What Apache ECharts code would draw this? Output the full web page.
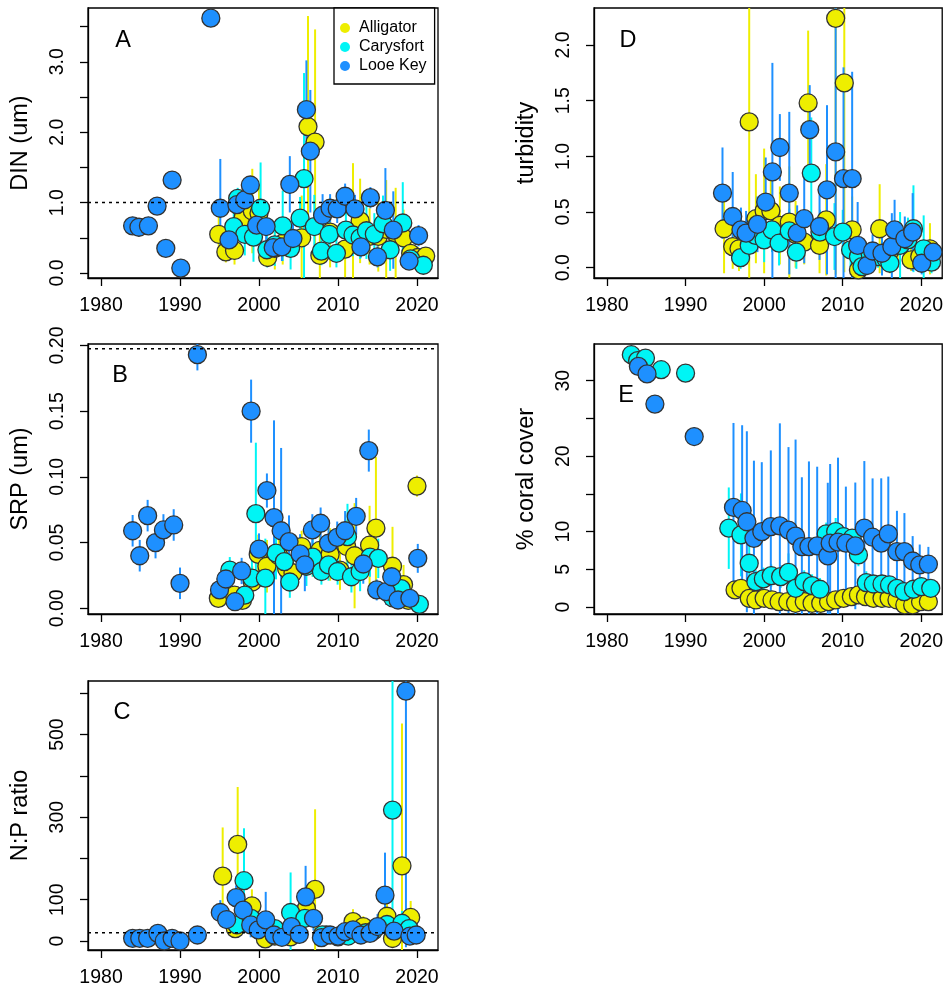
<!DOCTYPE html>
<html>
<head>
<meta charset="utf-8">
<script src="https://cdn.jsdelivr.net/npm/echarts@6/dist/echarts.min.js"></script>
<style>
html,body{margin:0;padding:0;background:#fff;}
#chart{width:946px;height:992px;}
</style>
</head>
<body>
<div id="chart"></div>
<script>
// ---------- sites ----------
const sites = ['Alligator', 'Carysfort', 'Looe Key'];
const siteColors = ['#EEEE00', '#00F5F5', '#1E90FF'];
const yearTicks = [1980, 1990, 2000, 2010, 2020];

// ---------- Panel A: DIN (um) ----------
const dinAlligatorYear = [1994.9, 1995.8, 1996.9, 1998.0, 1999.15, 2000.0, 2001.1, 2002.0, 2003.0, 2003.9, 2005.4, 2006.2, 2007.1, 2007.7, 2009.0, 2010.9, 2011.9, 2012.8, 2014.0, 2015.1, 2016.1, 2017.3, 2018.3, 2019.2, 2020.1, 2021.1];
const dinAlligatorVal = [0.55, 0.30, 0.32, 0.79, 0.88, 0.85, 0.22, 0.35, 0.42, 0.37, 0.50, 2.08, 1.86, 0.25, 0.58, 0.34, 0.56, 0.74, 0.52, 0.52, 0.62, 0.56, 0.50, 0.28, 0.22, 0.24];
const dinAlligatorSd = [0.25, 0.15, 0.2, 0.3, 0.6, 0.4, 0.1, 0.3, 0.3, 0.15, 0.6, 1.57, 1.6, 0.4, 0.5, 0.4, 1.0, 0.6, 0.4, 0.5, 0.7, 0.65, 0.4, 0.2, 0.15, 0.12];
const dinCarysfortYear = [1996.8, 1997.3, 1998.2, 1999.3, 2000.2, 2001.0, 2002.0, 2003.0, 2004.0, 2005.2, 2005.7, 2007.0, 2007.9, 2008.9, 2009.8, 2011.0, 2011.9, 2012.8, 2013.6, 2014.6, 2015.7, 2016.6, 2018.2, 2019.2, 2020.8];
const dinCarysfortVal = [0.66, 1.06, 0.55, 0.51, 0.92, 0.33, 0.40, 0.67, 0.35, 0.78, 1.34, 0.66, 0.31, 0.55, 0.28, 0.61, 0.54, 0.50, 0.60, 0.55, 0.70, 0.33, 0.71, 0.20, 0.11];
const dinCarysfortSd = [0.3, 0.15, 0.3, 0.35, 0.65, 0.25, 0.3, 0.5, 0.3, 0.3, 1.5, 0.45, 0.2, 0.35, 0.2, 0.4, 0.3, 0.3, 0.4, 0.3, 0.4, 0.3, 0.58, 0.15, 0.1];
const dinLooeYear = [1984.0, 1984.8, 1986.0, 1987.1, 1988.2, 1989.0, 1990.1, 1993.9, 1995.1, 1996.2, 1997.2, 1998.2, 1998.9, 1999.7, 2000.9, 2001.8, 2002.9, 2003.9, 2004.3, 2006.0, 2006.5, 2008.05, 2009.0, 2009.9, 2010.9, 2012.15, 2012.9, 2014.1, 2015.0, 2016.0, 2017.0, 2019.0, 2020.2];
const dinLooeVal = [0.67, 0.65, 0.67, 0.95, 0.35, 1.32, 0.07, 3.62, 0.92, 0.47, 0.97, 1.04, 1.25, 0.68, 0.66, 0.36, 0.37, 1.26, 0.49, 2.32, 1.73, 0.82, 0.92, 0.91, 1.09, 0.91, 0.37, 1.07, 0.23, 0.89, 0.61, 0.17, 0.53];
const dinLooeSd = [0.05, 0.05, 0.05, 0.1, 0.1, 0.12, 0.1, 0.05, 0.7, 0.25, 0.2, 0.2, 0.12, 0.3, 0.3, 0.1, 0.2, 0.4, 0.25, 0.7, 0.87, 0.3, 0.2, 0.2, 0.18, 0.2, 0.15, 0.15, 0.15, 0.6, 0.55, 0.1, 0.15];
const dinRef = 1.0;

// ---------- Panel D: turbidity ----------
const turbAlligatorYear = [1994.9, 1996.0, 1996.8, 1998.1, 1998.95, 2000.0, 2000.85, 2002.0, 2003.2, 2004.0, 2005.1, 2005.6, 2007.05, 2007.9, 2009.1, 2010.2, 2011.2, 2012.0, 2013.0, 2014.7, 2016.0, 2017.0, 2018.7, 2019.8, 2021.1];
const turbAlligatorVal = [0.35, 0.19, 0.17, 1.31, 0.44, 0.51, 0.51, 0.38, 0.41, 0.30, 0.23, 1.48, 0.20, 0.43, 2.24, 1.66, 0.34, -0.02, 0.10, 0.35, 0.15, 0.20, 0.07, 0.10, 0.17];
const turbAlligatorSd = [0.4, 0.2, 0.2, 1.4, 0.4, 0.56, 0.3, 0.35, 0.5, 0.3, 0.2, 0.65, 0.25, 0.5, 2.3, 1.7, 0.3, 0.05, 0.1, 0.4, 0.2, 0.15, 0.1, 0.1, 0.23];
const turbCarysfortYear = [1997.0, 1998.1, 1998.9, 2000.0, 2001.0, 2001.9, 2003.2, 2004.1, 2006.0, 2007.1, 2008.95, 2010.0, 2011.0, 2012.0, 2012.45, 2013.5, 2014.5, 2015.5, 2016.0, 2017.3, 2018.3, 2019.0, 2020.3, 2021.3];
const turbCarysfortVal = [0.09, 0.20, 0.29, 0.25, 0.34, 0.22, 0.33, 0.14, 0.85, 0.32, 0.28, 0.32, 0.16, 0.10, 0.01, 0.12, 0.10, 0.08, 0.04, 0.20, 0.25, 0.35, 0.17, 0.05];
const turbCarysfortSd = [0.1, 0.1, 0.15, 0.2, 0.2, 0.2, 0.2, 0.15, 0.5, 0.2, 0.3, 0.2, 0.15, 0.1, 0.05, 0.1, 0.1, 0.1, 0.08, 0.3, 0.2, 0.39, 0.3, 0.1];
const turbLooeYear = [1994.7, 1996.0, 1997.05, 1997.7, 1999.15, 2000.2, 2001.05, 2002.0, 2003.2, 2004.2, 2005.1, 2005.8, 2007.05, 2008.0, 2009.1, 2010.1, 2011.2, 2011.9, 2013.1, 2013.8, 2015.0, 2016.25, 2016.6, 2017.9, 2018.9, 2020.05, 2021.5];
const turbLooeVal = [0.67, 0.46, 0.34, 0.31, 0.39, 0.59, 0.86, 1.08, 0.67, 0.31, 0.44, 1.24, 0.37, 0.70, 1.04, 0.80, 0.80, 0.20, 0.02, 0.15, 0.13, 0.19, 0.34, 0.26, 0.32, 0.04, 0.14];
const turbLooeSd = [0.41, 0.4, 0.2, 0.2, 0.25, 0.4, 0.98, 0.3, 0.73, 0.25, 0.4, 0.4, 0.3, 0.76, 1.3, 1.0, 0.96, 0.39, 0.05, 0.15, 0.2, 0.3, 0.27, 0.2, 0.35, 0.1, 0.1];

// ---------- Panel B: SRP (um) ----------
const srpAlligatorYear = [1994.85, 1996.9, 1997.9, 1999.15, 1999.9, 2001.0, 2002.5, 2003.5, 2004.3, 2005.4, 2006.8, 2007.7, 2009.0, 2010.25, 2011.1, 2012.1, 2014.0, 2014.8, 2016.9, 2018.3, 2018.9, 2020.0];
const srpAlligatorVal = [0.0076, 0.010, 0.006, 0.020, 0.041, 0.032, 0.040, 0.030, 0.027, 0.047, 0.036, 0.044, 0.041, 0.029, 0.047, 0.040, 0.048, 0.061, 0.032, 0.018, 0.006, 0.093];
const srpAlligatorSd = [0.006, 0.006, 0.006, 0.012, 0.015, 0.02, 0.012, 0.015, 0.01, 0.012, 0.012, 0.015, 0.02, 0.015, 0.02, 0.04, 0.03, 0.054, 0.03, 0.015, 0.005, 0.008];
const srpCarysfortYear = [1996.3, 1998.2, 1999.1, 1999.6, 2000.8, 2002.15, 2003.2, 2003.9, 2006.0, 2006.8, 2007.9, 2008.8, 2009.95, 2011.2, 2011.7, 2012.8, 2014.05, 2015.1, 2016.9, 2018.0, 2020.3];
const srpCarysfortVal = [0.029, 0.010, 0.023, 0.072, 0.023, 0.042, 0.0355, 0.020, 0.032, 0.039, 0.028, 0.033, 0.028, 0.0545, 0.024, 0.028, 0.039, 0.038, 0.008, 0.015, 0.003];
const srpCarysfortSd = [0.01, 0.008, 0.015, 0.054, 0.03, 0.02, 0.015, 0.012, 0.015, 0.015, 0.01, 0.012, 0.01, 0.025, 0.012, 0.015, 0.015, 0.015, 0.006, 0.01, 0.003];
const srpLooeYear = [1984.0, 1984.9, 1985.9, 1986.9, 1987.9, 1989.2, 1990.0, 1992.2, 1995.0, 1995.8, 1996.96, 1997.8, 1999.0, 2000.0, 2001.0, 2001.9, 2002.8, 2003.8, 2005.2, 2005.8, 2006.75, 2007.8, 2008.8, 2009.9, 2010.9, 2012.3, 2013.2, 2013.9, 2014.9, 2016.1, 2016.8, 2017.6, 2019.1, 2020.1];
const srpLooeVal = [0.059, 0.040, 0.0705, 0.050, 0.0596, 0.0634, 0.019, 0.193, 0.014, 0.0223, 0.005, 0.0284, 0.150, 0.045, 0.0896, 0.069, 0.059, 0.0507, 0.0414, 0.033, 0.0596, 0.0647, 0.0495, 0.054, 0.059, 0.070, 0.0337, 0.120, 0.014, 0.0127, 0.024, 0.0063, 0.0076, 0.038];
const srpLooeSd = [0.012, 0.012, 0.012, 0.012, 0.012, 0.012, 0.012, 0.012, 0.008, 0.01, 0.005, 0.01, 0.024, 0.012, 0.013, 0.074, 0.063, 0.02, 0.015, 0.02, 0.012, 0.012, 0.015, 0.012, 0.015, 0.014, 0.015, 0.016, 0.008, 0.01, 0.015, 0.006, 0.006, 0.011];
const srpRef = 0.1975;

// ---------- Panel E: % coral cover ----------
const coralAlligatorYear = [1996.3, 1997.05, 1998.1, 1998.95, 2000.0, 2001.0, 2001.9, 2003.0, 2004.0, 2005.1, 2006.1, 2007.2, 2008.2, 2009.1, 2010.1, 2011.1, 2012.0, 2012.9, 2013.9, 2015.0, 2015.9, 2016.9, 2017.9, 2018.9, 2019.9, 2020.9];
const coralAlligatorVal = [2.26, 2.48, 1.15, 0.93, 1.15, 0.93, 0.70, 0.70, 0.49, 0.70, 0.49, 0.49, 0.70, 0.93, 1.15, 1.37, 1.60, 1.37, 1.15, 1.15, 1.15, 0.93, 0.27, 0.27, 0.70, 0.70];
const coralAlligatorSd = [0.8, 0.8, 0.6, 0.6, 0.6, 0.6, 0.5, 0.5, 0.5, 0.5, 0.5, 0.5, 0.5, 0.6, 0.6, 0.7, 0.7, 0.7, 0.6, 0.6, 0.6, 0.5, 0.4, 0.4, 0.5, 0.5];
const coralCarysfortYear = [1983.1, 1983.9, 1984.9, 1986.9, 1990.0, 1995.5, 1997.05, 1998.1, 1998.95, 1999.9, 2000.9, 2002.1, 2003.1, 2004.0, 2005.1, 2006.1, 2007.1, 2007.9, 2009.1, 2010.1, 2011.2, 2012.0, 2013.0, 2013.9, 2015.0, 2015.95, 2016.9, 2017.8, 2019.0, 2020.0, 2021.2];
const coralCarysfortVal = [33.45, 32.66, 33.0, 31.46, 31.0, 10.45, 9.56, 5.8, 3.36, 3.72, 4.16, 4.02, 4.6, 2.48, 3.36, 2.83, 2.35, 9.69, 10.0, 9.33, 9.12, 6.9, 3.23, 3.05, 3.05, 2.92, 2.48, 2.03, 2.35, 2.7, 2.48];
const coralCarysfortSd = [0, 0, 0, 0, 0, 5.4, 5.5, 3.0, 1.5, 1.5, 1.5, 1.5, 2.5, 1.5, 1.5, 1.5, 1.5, 1.5, 1.8, 1.2, 1.2, 1.5, 1.5, 1.2, 1.2, 1.2, 1.2, 1.2, 1.2, 1.2, 1.2];
const coralLooeYear = [1984.0, 1985.1, 1986.1, 1991.1, 1996.1, 1997.2, 1997.8, 1998.7, 1999.7, 2000.85, 2002.0, 2003.1, 2004.0, 2004.8, 2005.7, 2006.75, 2008.1, 2008.4, 2009.4, 2010.4, 2011.6, 2012.75, 2013.8, 2014.9, 2015.8, 2016.9, 2017.85, 2018.9, 2019.8, 2020.9];
const coralLooeVal = [31.9, 30.9, 26.9, 22.6, 13.2, 12.8, 11.3, 9.1, 10.0, 10.66, 10.75, 10.2, 9.4, 8.0, 8.0, 8.1, 6.77, 8.46, 8.6, 8.46, 8.1, 10.45, 9.25, 8.46, 9.69, 7.35, 7.35, 6.1, 5.58, 5.67];
const coralLooeSd = [0, 0, 0, 0, 11.2, 11.3, 12.0, 10.3, 9.2, 10.1, 13.6, 11.0, 12.8, 9.2, 11.3, 10.5, 9.7, 10.5, 11.2, 7.5, 8.4, 8.9, 7.8, 8.6, 7.6, 5.4, 5.1, 3.3, 2.7, 2.3];

// ---------- Panel C: N:P ratio ----------
const npAlligatorYear = [1995.4, 1997.0, 1997.3, 1999.1, 2000.8, 2002.0, 2004.0, 2006.0, 2007.1, 2008.5, 2010.0, 2011.9, 2013.2, 2016.2, 2016.9, 2018.1, 2019.2];
const npAlligatorVal = [157, 30, 234, 85, 5, 12, 10, 79, 125, 15, 12, 47, 35, 60, 6, 182, 57];
const npAlligatorSd = [118, 20, 139, 40, 10, 10, 10, 40, 194, 10, 10, 30, 25, 40, 10, 345, 40];
const npCarysfortYear = [1997.2, 1998.1, 1999.0, 2002.0, 2004.0, 2005.8, 2008.0, 2010.0, 2011.3, 2013.5, 2014.5, 2016.2, 2016.9, 2018.1, 2019.0];
const npCarysfortVal = [39, 146, 55, 30, 69, 55, 15, 10, 12, 20, 25, 40, 317, 43, 30];
const npCarysfortSd = [20, 127, 30, 20, 97, 40, 10, 10, 10, 15, 15, 30, 330, 30, 20];
const npLooeYear = [1984.0, 1984.9, 1985.9, 1987.2, 1988.0, 1989.0, 1990.0, 1992.2, 1995.1, 1995.9, 1997.1, 1998.0, 1998.95, 1999.9, 2000.85, 2001.9, 2002.9, 2004.1, 2005.1, 2005.9, 2006.9, 2007.9, 2009.0, 2010.0, 2010.9, 2011.9, 2012.9, 2014.05, 2015.0, 2015.95, 2017.1, 2018.6, 2019.1, 2019.9];
const npLooeVal = [6.5, 6.5, 6.5, 18.6, 0, 6.5, 0, 14.5, 69, 52, 105, 75, 39, 27, 51, 14.5, 9, 35, 16, 107, 55, 8, 14.5, 12, 22.5, 27, 14.5, 18.6, 35, 111, 24, 605, 12, 14.5];
const npLooeSd = [10, 10, 10, 10, 8, 8, 8, 15, 30, 20, 30, 30, 30, 20, 68, 10, 10, 20, 10, 75, 30, 10, 10, 10, 10, 10, 10, 10, 30, 103, 15, 620, 10, 10];
const npRef = 20;

// ---------- axis tick sets ----------
const dinTicks = [0, 0.5, 1, 1.5, 2, 2.5, 3, 3.5];
const dinLabels = [0, 1, 2, 3];
const turbTicks = [0, 0.5, 1, 1.5, 2];
const srpTicks = [0, 0.05, 0.1, 0.15, 0.2];
const coralTicks = [0, 5, 10, 15, 20, 25, 30];
const coralLabels = [0, 5, 10, 20, 30];
const npTicks = [0, 100, 200, 300, 400, 500, 600];
const npLabels = [0, 100, 300, 500];

// ---------- layout ----------
const FONT = '"Liberation Sans", Arial, Helvetica, sans-serif';
const XMIN = 1978.35, XMAX = 2022.66;
const panels = [
  { letter: 'A', lx: 123, ly: 41, grid: { left: 88, top: 8, width: 350, height: 270 }, ymin: -0.071, ymax: 3.764,
    ticks: dinTicks, labels: dinLabels, dec: 1, title: 'DIN (um)', ref: dinRef,
    d: [[dinAlligatorYear, dinAlligatorVal, dinAlligatorSd], [dinCarysfortYear, dinCarysfortVal, dinCarysfortSd], [dinLooeYear, dinLooeVal, dinLooeSd]] },
  { letter: 'D', lx: 628, ly: 41, grid: { left: 594, top: 8, width: 350, height: 270 }, ymin: -0.0925, ymax: 2.333,
    ticks: turbTicks, labels: turbTicks, dec: 1, title: 'turbidity', ref: null,
    d: [[turbAlligatorYear, turbAlligatorVal, turbAlligatorSd], [turbCarysfortYear, turbCarysfortVal, turbCarysfortSd], [turbLooeYear, turbLooeVal, turbLooeSd]] },
  { letter: 'B', lx: 120, ly: 376, grid: { left: 88, top: 344, width: 350, height: 270 }, ymin: -0.00434, ymax: 0.2011,
    ticks: srpTicks, labels: srpTicks, dec: 2, title: 'SRP (um)', ref: srpRef,
    d: [[srpAlligatorYear, srpAlligatorVal, srpAlligatorSd], [srpCarysfortYear, srpCarysfortVal, srpCarysfortSd], [srpLooeYear, srpLooeVal, srpLooeSd]] },
  { letter: 'E', lx: 626, ly: 396, grid: { left: 594, top: 344, width: 350, height: 270 }, ymin: -0.93, ymax: 34.87,
    ticks: coralTicks, labels: coralLabels, dec: 0, title: '% coral cover', ref: null,
    d: [[coralAlligatorYear, coralAlligatorVal, coralAlligatorSd], [coralCarysfortYear, coralCarysfortVal, coralCarysfortSd], [coralLooeYear, coralLooeVal, coralLooeSd]] },
  { letter: 'C', lx: 122, ly: 713, grid: { left: 88, top: 681, width: 350, height: 269 }, ymin: -21.8, ymax: 629.7,
    ticks: npTicks, labels: npLabels, dec: 0, title: 'N:P ratio', ref: npRef,
    d: [[npAlligatorYear, npAlligatorVal, npAlligatorSd], [npCarysfortYear, npCarysfortVal, npCarysfortSd], [npLooeYear, npLooeVal, npLooeSd]] }
];

const grids = [], xAxes = [], yAxes = [], series = [], graphics = [];
const axisCol = '#000';
panels.forEach((p, i) => {
  grids.push(Object.assign({ show: true, borderColor: '#000', borderWidth: 1.3, backgroundColor: 'transparent', containLabel: false }, p.grid));
  xAxes.push({
    type: 'value', gridIndex: i, min: XMIN, max: XMAX,
    axisLine: { show: true, onZero: false, lineStyle: { color: axisCol, width: 1.3 } },
    axisTick: { show: true, inside: false, length: 8, customValues: yearTicks, lineStyle: { color: axisCol, width: 1.3 } },
    axisLabel: { show: true, customValues: yearTicks, margin: 18, fontSize: 19.5, color: '#000', fontFamily: FONT, formatter: v => String(v) },
    splitLine: { show: false }
  });
  yAxes.push({
    type: 'value', gridIndex: i, min: p.ymin, max: p.ymax,
    name: p.title, nameLocation: 'middle', nameGap: 55,
    nameTextStyle: { fontSize: 23.5, color: '#000', fontFamily: FONT },
    axisLine: { show: true, onZero: false, lineStyle: { color: axisCol, width: 1.3 } },
    axisTick: { show: true, inside: false, length: 8, customValues: p.ticks, lineStyle: { color: axisCol, width: 1.3 } },
    axisLabel: { show: true, customValues: p.labels, rotate: 90, margin: 20, fontSize: 19.5, color: '#000', fontFamily: FONT,
      formatter: v => Number(v).toFixed(p.dec) },
    splitLine: { show: false }
  });
  graphics.push({ type: 'text', x: p.lx, y: p.ly, style: { text: p.letter, fontSize: 23.5, fontFamily: FONT, fill: '#000', textAlign: 'center', textVerticalAlign: 'middle' }, z: 100 });

  p.d.forEach((arr, s) => {
    const [yr, val, sd] = arr;
    const col = siteColors[s];
    series.push({
      type: 'custom', name: sites[s] + ' sd', xAxisIndex: i, yAxisIndex: i, clip: true, silent: true,
      data: yr.map((y, k) => [y, val[k] - sd[k], val[k] + sd[k]]),
      encode: { x: 0, y: [1, 2] },
      renderItem: (params, api) => {
        const a = api.coord([api.value(0), api.value(1)]);
        const b = api.coord([api.value(0), api.value(2)]);
        return { type: 'line', shape: { x1: a[0], y1: a[1], x2: b[0], y2: b[1] }, style: { stroke: col, lineWidth: 2 } };
      }
    });
    series.push({
      type: 'scatter', name: sites[s], xAxisIndex: i, yAxisIndex: i, clip: true, silent: true,
      symbol: 'circle', symbolSize: 18,
      itemStyle: { color: col, borderColor: '#333', borderWidth: 1.3, opacity: 1 },
      emphasis: { disabled: true },
      data: yr.map((y, k) => [y, val[k]])
    });
  });
  if (p.ref !== null) {
    series.push({
      type: 'line', name: 'ref' + i, xAxisIndex: i, yAxisIndex: i, silent: true, symbol: 'none', z: 5,
      data: [[XMIN, p.ref], [XMAX, p.ref]],
      lineStyle: { color: '#000', width: 1.5, type: [3, 4] }
    });
  }
});

const chart = echarts.init(document.getElementById('chart'), null, { renderer: 'canvas' });
chart.setOption({
  animation: false,
  backgroundColor: '#fff',
  textStyle: { fontFamily: FONT },
  grid: grids, xAxis: xAxes, yAxis: yAxes, series: series,
  graphic: graphics,
  legend: {
    data: sites, orient: 'vertical', left: 334, top: 8, icon: 'circle',
    itemWidth: 18, itemHeight: 10, itemGap: 3, padding: [12, 8, 10, 6],
    borderColor: '#000', borderWidth: 1.3, backgroundColor: '#fff',
    itemStyle: { borderWidth: 0 },
    textStyle: { fontSize: 16, color: '#000', fontFamily: FONT },
    selectedMode: false
  }
});
</script>
</body>
</html>
